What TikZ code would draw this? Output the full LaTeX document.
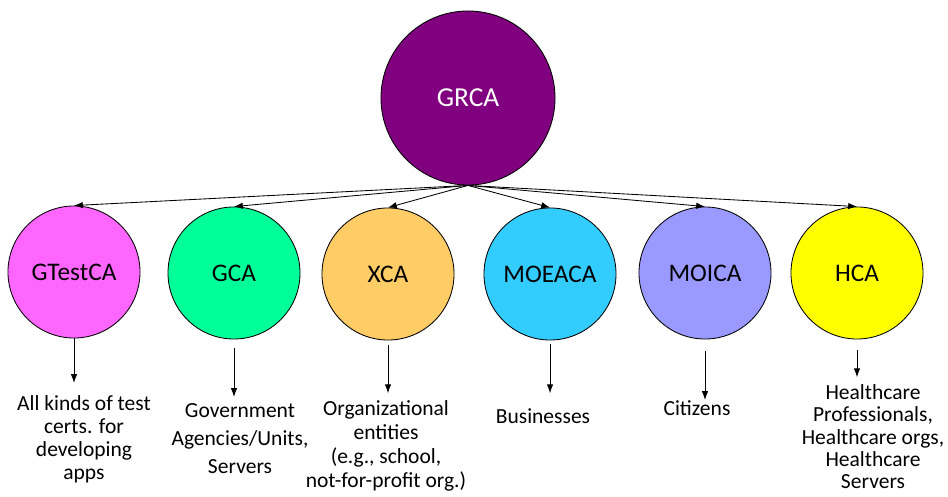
\documentclass[tikz,border=0pt]{standalone}
\usepackage{fontspec}
\setmainfont{Carlito}
\usetikzlibrary{arrows.meta}
\definecolor{grcapurple}{HTML}{800080}
\definecolor{testpink}{HTML}{FF66FF}
\definecolor{gcagreen}{HTML}{00FF99}
\definecolor{xcaorange}{HTML}{FFCC66}
\definecolor{moeablue}{HTML}{33CCFF}
\definecolor{moiviolet}{HTML}{9999FF}
\definecolor{hcayellow}{HTML}{FFFF00}

\begin{document}
\begin{tikzpicture}[x=0.025cm, y=-0.025cm, line width=0.6pt, >={Latex[length=2.2mm,width=1.6mm]},
  ca/.style={circle, draw, minimum size=3.3cm, font=\fontsize{18}{20}\selectfont},
  who/.style={align=center, anchor=north, inner sep=0pt, font=\fontsize{15.3}{16.5}\selectfont}]
\useasboundingbox (0,0) rectangle (948,497);

\node [circle, draw, fill=grcapurple, text=white, minimum size=4.35cm, font=\fontsize{19.5}{24}\selectfont] (g) at (468,98) {GRCA};

\node [ca, fill=testpink] (c1) at (74,272) {GTestCA};
\node [ca, fill=gcagreen] (c2) at (234,273) {GCA};
\node [ca, fill=xcaorange] (c3) at (388,274) {XCA};
\node [ca, fill=moeablue] (c4) at (550,274) {MOEACA};
\node [ca, fill=moiviolet] (c5) at (705,273) {MOICA};
\node [ca, fill=hcayellow] (c6) at (857,273) {HCA};

\node [who] (l1) at (84,395) {All kinds of test\\certs. for\\developing\\apps};
\node [who, font=\fontsize{15.3}{20}\selectfont] (l2) at (240,403) {Government\\Agencies/Units,\\Servers};
\node [who, font=\fontsize{15.3}{17}\selectfont] (l3) at (386,400) {Organizational\\entities\\(e.g., school,\\not-for-profit org.)};
\node [who] (l4) at (543,408) {Businesses};
\node [who] (l5) at (697,400) {Citizens};
\node [who, font=\fontsize{15.3}{15.9}\selectfont] (l6) at (873,384) {Healthcare\\Professionals,\\Healthcare orgs,\\Healthcare\\Servers};

\draw[->] (g.south) -- (c1.north);
\draw[->] (g.south) -- (c2.north);
\draw[->] (g.south) -- (c3.north);
\draw[->] (g.south) -- (c4.north);
\draw[->] (g.south) -- (c5.north);
\draw[->] (g.south) -- (c6.north);

\draw[->, shorten >=0.3cm] (c1.south) -- (c1.south |- l1.north);
\draw[->, shorten <=0.22cm, shorten >=0.15cm] (c2.south) -- (c2.south |- l2.north);
\draw[->, shorten <=0.12cm, shorten >=0.17cm] (c3.south) -- (c3.south |- l3.north);
\draw[->, shorten <=0.1cm, shorten >=0.37cm] (c4.south) -- (c4.south |- l4.north);
\draw[->, shorten <=0.3cm] (c5.south) -- (c5.south |- l5.north);
\draw[->, shorten <=0.27cm, shorten >=0.17cm] (c6.south) -- (c6.south |- l6.north);
\end{tikzpicture}
\end{document}
